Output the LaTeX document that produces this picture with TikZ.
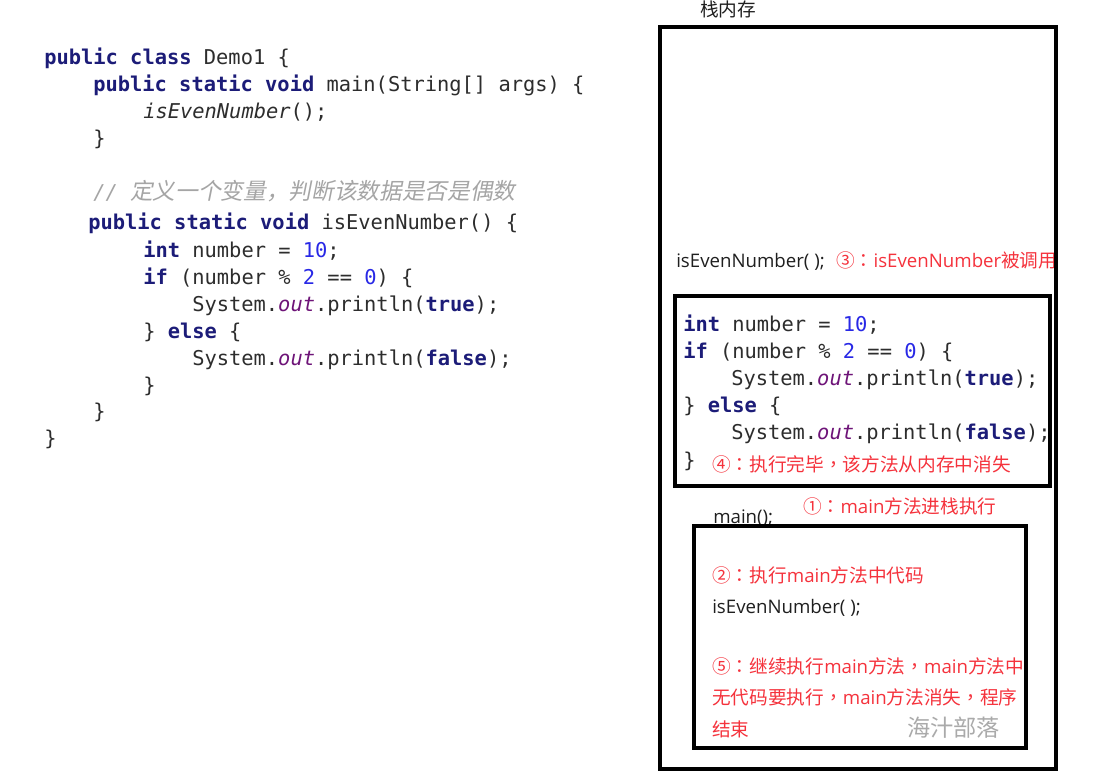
\documentclass[tikz,border=0pt]{standalone}
\usepackage{fontspec}
\setmainfont{Open Sans}
\newfontfamily\cjk{Noto Sans CJK SC}
\newfontfamily\cjkp{Noto Sans CJK TC}
\newfontfamily\cjkit[FakeSlant=0.2]{Noto Sans CJK SC}
\newfontfamily\codefont{DejaVu Sans Mono}
\definecolor{kwc}{RGB}{28,28,120}
\definecolor{numc}{RGB}{40,40,230}
\definecolor{outc}{RGB}{110,20,120}
\definecolor{codec}{RGB}{45,45,45}
\definecolor{cmtc}{RGB}{165,165,165}
\definecolor{redc}{RGB}{245,50,60}
\definecolor{wmc}{RGB}{170,170,170}
\newcommand\jkw[1]{{\bfseries\color{kwc}#1}}
\newcommand\jnum[1]{{\color{numc}#1}}
\newcommand\jout[1]{{\itshape\color{outc}#1}}
\newcommand\pcolon{{\cjkp ：}}
\newcommand\pcomma{{\cjkp ，}}
\tikzset{
  code/.style={anchor=west, inner sep=0pt, text height=11pt, text depth=4pt, yshift=-2.2pt,
    font=\codefont\fontsize{15.3}{18}\selectfont, text=codec},
  label/.style={anchor=west, inner sep=0pt, text height=10pt, text depth=3.5pt, yshift=-1.6pt,
    font=\fontsize{14}{16}\selectfont, text=black!88},
  redlabel/.style={label, text=redc},
  frame/.style={draw=black, line width=2.3pt},
}
\begin{document}
\begin{tikzpicture}[x=0.75pt,y=-0.75pt]
\fill[white] (0,0) rectangle (1101,777);
\useasboundingbox (0,0) rectangle (1101,777);
% left code
\node[code] (l1) at (44,57) {\jkw{public} \jkw{class} Demo1 \{};
\node[code] (l2) at (93,84) {\jkw{public} \jkw{static} \jkw{void} main(String[] args) \{};
\node[code] (l3) at (143,111) {\itshape isEvenNumber\upshape();};
\node[code] (l4) at (93,138) {\}};
\node[code, text=cmtc] (l5) at (93,192) {\itshape // {\cjkit\fontsize{17}{20}\selectfont 定义一个变量，判断该数据是否是偶数}};
\node[code] (l6) at (88,222) {\jkw{public} \jkw{static} \jkw{void} isEvenNumber() \{};
\node[code] (l7) at (143,250) {\jkw{int} number = \jnum{10};};
\node[code] (l8) at (143,277) {\jkw{if} (number \% \jnum{2} == \jnum{0}) \{};
\node[code] (l9) at (192,304) {System.\jout{out}.println(\jkw{true});};
\node[code] (l10) at (143,331) {\} \jkw{else} \{};
\node[code] (l11) at (192,358) {System.\jout{out}.println(\jkw{false});};
\node[code] (l12) at (143,385) {\}};
\node[code] (l13) at (93,411) {\}};
\node[code] (l14) at (44,438) {\}};
% right: stack memory
\node[label] (title) at (700,10) {\cjk 栈内存};
\node[label] (call1) at (676,261) {isEvenNumber( );};
\node[redlabel] (s3) at (836,261) {{\cjk ③}\pcolon isEvenNumber{\cjk 被调用}};
\fill[white] (1057.2,240) rectangle (1070,280);
\draw[frame] (660,27) rectangle (1056,769);
\draw[frame] (675,296) rectangle (1050,486);
\node[code] (r1) at (683,324) {\jkw{int} number = \jnum{10};};
\node[code] (r2) at (683,351) {\jkw{if} (number \% \jnum{2} == \jnum{0}) \{};
\node[code] (r3) at (731,378) {System.\jout{out}.println(\jkw{true});};
\node[code] (r4) at (683,405) {\} \jkw{else} \{};
\node[code] (r5) at (731,432) {System.\jout{out}.println(\jkw{false});};
\node[code] (r6) at (683,460) {\}};
\node[redlabel] (s4) at (712,465) {{\cjk ④}\pcolon{\cjk 执行完毕}\pcomma{\cjk 该方法从内存中消失}};
\node[label] (mainc) at (713,517) {main();};
\node[redlabel] (s1) at (803,507) {{\cjk ①}\pcolon main{\cjk 方法进栈执行}};
\draw[frame] (694,526) rectangle (1026,748);
\node[redlabel] (s2) at (712,576) {{\cjk ②}\pcolon{\cjk 执行}main{\cjk 方法中代码}};
\node[label] (call2) at (712,607) {isEvenNumber( );};
\node[redlabel] (s5a) at (712,667) {{\cjk ⑤}\pcolon{\cjk 继续执行}main{\cjk 方法}\pcomma main{\cjk 方法中}};
\node[redlabel] (s5b) at (712,698) {{\cjk 无代码要执行}\pcomma main{\cjk 方法消失}\pcomma{\cjk 程序}};
\node[redlabel] (s5c) at (712,730) {\cjk 结束};
\node[label, text=wmc, font=\cjk\fontsize{17.4}{20}\selectfont] (wm) at (907,730) {海汁部落};
\end{tikzpicture}
\end{document}
